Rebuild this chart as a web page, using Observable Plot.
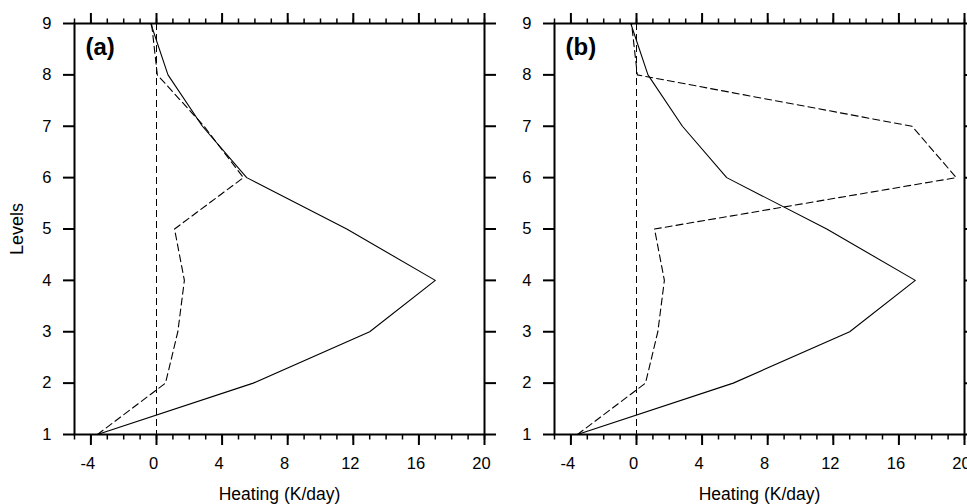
<!DOCTYPE html>
<html>
<head>
<meta charset="utf-8">
<script src="https://cdn.jsdelivr.net/npm/d3@7"></script>
<script src="https://cdn.jsdelivr.net/npm/@observablehq/plot@0.6"></script>
<style>
  html, body { margin: 0; padding: 0; background: white; }
  #wrap { position: relative; width: 967px; height: 504px; overflow: hidden; }
  #pa, #pb { position: absolute; top: 0; }
  #pa { left: 0; }
  #pb { left: 480px; }
</style>
</head>
<body>
<div id="wrap"><div id="pa"></div><div id="pb"></div></div>
<script>
// ---- data ----
const levels = [1, 2, 3, 4, 5, 6, 7, 8, 9];
const solidA  = [-3.6, 5.9, 13.0, 17.0, 11.6, 5.5, 2.8, 0.7, -0.35];
const dashedA = [-3.6, 0.55, 1.3, 1.7, 1.1, 5.3, 2.9, 0.05, -0.3];
const solidB  = [-3.6, 5.9, 13.0, 17.0, 11.6, 5.5, 2.8, 0.7, -0.35];
const dashedB = [-3.6, 0.55, 1.3, 1.7, 1.1, 19.5, 16.8, 0.05, -0.3];
const zeroLine = [0];
const xMajor = [-4, 0, 4, 8, 12, 16, 20];
const xMinor = [-5, -4, -3, -2, -1, 0, 1, 2, 3, 4, 5, 6, 7, 8, 9, 10, 11, 12, 13, 14, 15, 16, 17, 18, 19, 20];
const yTicks = [1, 2, 3, 4, 5, 6, 7, 8, 9];
const xTitle = "Heating (K/day)";
const yTitle = "Levels";

const FONT = "'Liberation Sans', Arial, Helvetica, sans-serif";
const DASH = "7,4";

function panel(tag, solid, dashed, showYTitle, width, marginRight) {
  const rows = levels.map((l, i) => ({level: l, solid: solid[i], dashed: dashed[i]}));
  const marks = [
    Plot.ruleX(zeroLine, {stroke: "black", strokeWidth: 1, strokeDasharray: DASH}),
    Plot.line(rows, {x: "solid", y: "level", stroke: "black", strokeWidth: 1.1}),
    Plot.line(rows, {x: "dashed", y: "level", stroke: "black", strokeWidth: 1.1, strokeDasharray: DASH}),
    // minor x ticks (bottom & top)
    Plot.axisX({anchor: "bottom", ticks: xMinor, tickSize: 5.5, tickFormat: () => "", label: null, strokeWidth: 1.5}),
    Plot.axisX({anchor: "top", ticks: xMinor, tickSize: 5.5, tickFormat: () => "", label: null, strokeWidth: 1.5}),
    // major x ticks
    Plot.axisX({anchor: "bottom", ticks: xMajor, tickSize: 11, tickFormat: () => "", label: null, strokeWidth: 2}),
    Plot.axisX({anchor: "top", ticks: xMajor, tickSize: 11, tickFormat: () => "", label: null, strokeWidth: 2}),
    // y ticks
    Plot.axisY({anchor: "left", ticks: yTicks, tickSize: 11, tickFormat: () => "", label: null, strokeWidth: 2}),
    Plot.axisY({anchor: "right", ticks: yTicks, tickSize: 11, tickFormat: () => "", label: null, strokeWidth: 2}),
    // tick labels
    Plot.text(xMajor, {x: d => d, text: d => String(d), frameAnchor: "bottom", dy: 23, dx: -3, lineAnchor: "top", textAnchor: "middle", fontSize: 16.5, fill: "black"}),
    Plot.text(yTicks, {y: d => d, text: d => String(d), frameAnchor: "left", dx: -23, textAnchor: "end", lineAnchor: "middle", fontSize: 16.5, fill: "black"}),
    Plot.frame({stroke: "black", strokeWidth: 2}),
    Plot.text([tag], {text: d => d, frameAnchor: "top-left", dx: 11, dy: 14, lineAnchor: "top", textAnchor: "start", fontSize: 24, fontWeight: "bold", fill: "black"}),
    Plot.text([xTitle], {text: d => d, frameAnchor: "bottom", dy: 65, lineAnchor: "bottom", textAnchor: "middle", fontSize: 17.5, fill: "black"})
  ];
  if (showYTitle) {
    marks.push(Plot.text([yTitle], {text: d => d, frameAnchor: "left", dx: -57, rotate: -90, textAnchor: "middle", lineAnchor: "middle", fontSize: 18, fill: "black"}));
  }
  return Plot.plot({
    width, height: 504,
    marginLeft: 74, marginRight, marginTop: 23, marginBottom: 70,
    x: {domain: [-5, 20]},
    y: {domain: [1, 9]},
    style: {background: "transparent", overflow: "visible", fontFamily: FONT, fontSize: "16px", color: "black"},
    marks
  });
}

document.getElementById("pa").appendChild(panel("(a)", solidA, dashedA, true, 500, 16));
document.getElementById("pb").appendChild(panel("(b)", solidB, dashedB, false, 487, 3));
</script>
</body>
</html>
